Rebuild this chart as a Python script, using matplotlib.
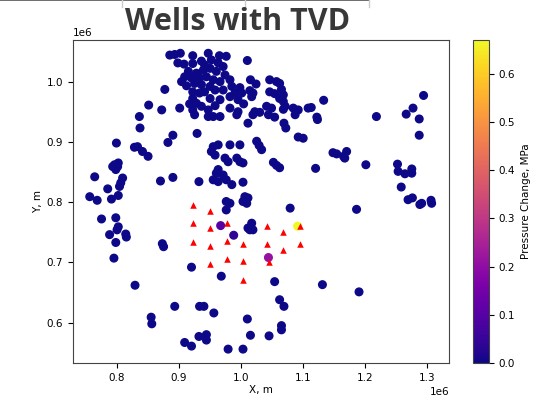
import matplotlib
matplotlib.use("Agg")
import matplotlib.pyplot as plt
from matplotlib.lines import Line2D
import numpy as np

# Production well locations (x, y in units of 1e6 m) and pressure change (MPa)
well_x = [
    0.885, 0.893, 0.902, 0.922, 0.947, 0.965, 0.976, 1.010, 0.898, 0.908,
    0.922, 0.936, 0.952, 0.963, 0.915, 0.928, 0.939, 0.950, 0.960, 0.971,
    0.909, 0.920, 0.933, 0.944, 0.955, 0.904, 0.925, 0.936, 0.950, 0.966,
    0.982, 0.985, 0.998, 0.877, 0.922, 0.933, 0.958, 0.971, 1.001, 0.995,
    0.922, 0.928, 0.950, 0.966, 0.982, 0.872, 0.901, 0.922, 0.936, 0.947,
    0.982, 0.995, 0.925, 0.947, 0.966, 0.993, 0.955, 1.011, 1.019, 1.015,
    1.024, 1.014, 1.019, 1.017, 1.046, 1.057, 1.062, 1.046, 1.054, 1.065,
    1.068, 1.062, 1.068, 1.071, 1.041, 1.049, 1.068, 1.084, 1.092, 1.087,
    1.108, 1.113, 1.133, 1.122, 1.123, 1.022, 1.030, 1.044, 1.054, 1.069,
    1.072, 1.025, 1.029, 1.033, 1.092, 1.100, 1.052, 1.057, 1.062, 1.120,
    1.148, 1.154, 1.165, 1.170, 1.167, 1.218, 1.266, 1.277, 1.287, 1.294,
    1.287, 1.201, 1.252, 1.253, 1.264, 1.275, 1.275, 1.258, 1.269, 1.276,
    1.288, 1.291, 1.306, 1.307, 1.186, 1.190, 1.131, 1.079, 0.851, 0.836,
    0.837, 0.799, 0.828, 0.833, 0.841, 0.850, 0.882, 0.890, 0.929, 0.796,
    0.801, 0.798, 0.793, 0.802, 0.764, 0.809, 0.806, 0.804, 0.785, 0.756,
    0.768, 0.791, 0.802, 0.870, 0.890, 0.775, 0.798, 0.802, 0.800, 0.788,
    0.798, 0.814, 0.815, 0.795, 0.829, 0.955, 0.963, 0.952, 0.958, 0.982,
    0.998, 0.974, 0.979, 0.993, 0.998, 1.003, 0.963, 0.960, 0.971, 0.955,
    0.963, 0.976, 0.985, 1.003, 0.932, 0.976, 0.982, 0.976, 1.006, 1.011,
    1.003, 1.009, 1.017, 1.014, 1.019, 1.011, 0.873, 0.875, 0.920, 0.968,
    1.054, 0.893, 0.855, 0.856, 0.933, 0.940, 0.956, 1.010, 1.062, 1.069,
    1.065, 1.065, 0.932, 0.944, 0.944, 0.909, 0.920, 0.979, 1.003, 1.015,
    1.045, 0.912, 0.941, 0.917, 0.958, 0.974, 0.941, 0.990, 1.004,
    0.967, 0.988, 1.044, 1.091,
]
well_y = [
    1.044, 1.045, 1.047, 1.043, 1.047, 1.043, 1.042, 1.035, 1.031, 1.029,
    1.030, 1.034, 1.036, 1.031, 1.017, 1.014, 1.019, 1.022, 1.017, 1.025,
    1.008, 1.006, 1.006, 1.008, 1.003, 1.000, 0.997, 0.995, 0.992, 1.000,
    1.003, 0.992, 0.990, 0.987, 0.983, 0.981, 0.986, 0.986, 0.981, 0.970,
    0.972, 0.964, 0.972, 0.970, 0.975, 0.953, 0.956, 0.953, 0.959, 0.953,
    0.956, 0.950, 0.945, 0.942, 0.942, 0.945, 0.942, 0.931, 0.945, 1.003,
    0.996, 0.985, 0.981, 0.975, 1.003, 1.000, 0.997, 0.983, 0.980, 0.987,
    0.978, 0.972, 0.967, 0.959, 0.959, 0.956, 0.954, 0.956, 0.953, 0.945,
    0.956, 0.957, 0.969, 0.941, 0.937, 0.950, 0.949, 0.945, 0.941, 0.931,
    0.923, 0.901, 0.894, 0.887, 0.908, 0.906, 0.866, 0.861, 0.857, 0.856,
    0.882, 0.880, 0.876, 0.884, 0.873, 0.942, 0.946, 0.956, 0.938, 0.977,
    0.911, 0.862, 0.863, 0.851, 0.847, 0.855, 0.848, 0.825, 0.804, 0.807,
    0.796, 0.798, 0.803, 0.798, 0.788, 0.651, 0.663, 0.790, 0.961, 0.942,
    0.923, 0.898, 0.891, 0.892, 0.884, 0.876, 0.899, 0.911, 0.914, 0.862,
    0.859, 0.854, 0.859, 0.865, 0.842, 0.840, 0.832, 0.826, 0.822, 0.809,
    0.803, 0.805, 0.811, 0.835, 0.841, 0.772, 0.774, 0.759, 0.754, 0.746,
    0.733, 0.747, 0.742, 0.707, 0.662, 0.892, 0.895, 0.884, 0.878, 0.895,
    0.895, 0.873, 0.867, 0.873, 0.867, 0.865, 0.854, 0.848, 0.845, 0.837,
    0.834, 0.837, 0.829, 0.833, 0.834, 0.801, 0.798, 0.787, 0.809, 0.807,
    0.801, 0.798, 0.765, 0.754, 0.754, 0.757, 0.731, 0.726, 0.692, 0.677,
    0.668, 0.627, 0.609, 0.598, 0.627, 0.627, 0.616, 0.606, 0.638, 0.627,
    0.595, 0.588, 0.577, 0.580, 0.571, 0.567, 0.561, 0.556, 0.556, 0.579,
    0.578, 0.993, 0.983, 0.963, 0.960, 1.011, 1.028, 0.981, 0.963,
    0.761, 0.745, 0.708, 0.760,
]
dp = [0.0] * (len(well_x) - 4) + [0.10, 0.04, 0.21, 0.67]

# Injection well locations (x, y in units of 1e6 m)
inj_x = [0.922, 0.922, 0.922,
         0.950, 0.950, 0.950, 0.950,
         0.977, 0.977, 0.977,
         1.003, 1.003, 1.003,
         1.041, 1.041, 1.045,
         1.068, 1.068,
         1.095, 1.095]
inj_y = [0.796, 0.765, 0.734,
         0.786, 0.757, 0.727, 0.698,
         0.765, 0.736, 0.706,
         0.731, 0.702, 0.671,
         0.761, 0.731, 0.700,
         0.750, 0.721,
         0.761, 0.731]

cbar_ticks = [0.0, 0.1, 0.2, 0.3, 0.4, 0.5, 0.6]

scale = 1e6
fs = 7.5

fig = plt.figure(figsize=(5.43, 4.03), dpi=100)
ax = fig.add_axes([0.1344, 0.0993, 0.6925, 0.8014])
cax = fig.add_axes([0.871, 0.0993, 0.0295, 0.8014])

sc = ax.scatter(np.array(well_x) * scale, np.array(well_y) * scale, c=dp,
                cmap="plasma", vmin=0.0, vmax=max(dp), s=30, zorder=2)
ax.scatter(np.array(inj_x) * scale, np.array(inj_y) * scale, marker="^",
           color="red", s=22, linewidths=0, zorder=3)

ax.set_xlim(0.729e6, 1.335e6)
ax.set_ylim(0.533e6, 1.069e6)
ax.set_xticks([0.8e6, 0.9e6, 1.0e6, 1.1e6, 1.2e6, 1.3e6])
ax.set_yticks([0.6e6, 0.7e6, 0.8e6, 0.9e6, 1.0e6])
ax.tick_params(labelsize=fs, length=3.5, width=0.8)
ax.xaxis.get_offset_text().set_fontsize(fs)
ax.yaxis.get_offset_text().set_fontsize(fs)
ax.set_xlabel("X, m", fontsize=fs, labelpad=2)
ax.set_ylabel("Y, m", fontsize=fs, labelpad=3)
for sp in ax.spines.values():
    sp.set_linewidth(0.8)
    sp.set_color("#444444")

cb = fig.colorbar(sc, cax=cax, ticks=cbar_ticks)
cb.ax.tick_params(labelsize=fs, length=3.5, width=0.8)
cb.outline.set_linewidth(0.8)
cb.outline.set_edgecolor("#444444")
cb.set_label("Pressure Change, MPa", fontsize=fs, labelpad=4)

fig.text(0.438, 0.946, "Wells with TVD", ha="center", va="center",
         fontsize=22, fontweight="bold", family="Open Sans", color="#383838")

# thin rule along the top edge with small tick marks
fig.add_artist(Line2D([0, 0.68], [0.999, 0.999], transform=fig.transFigure,
                      color="#555555", linewidth=1.2))
for xt in [0.2245, 0.451, 0.68]:
    fig.add_artist(Line2D([xt, xt], [1.0, 0.983], transform=fig.transFigure,
                          color="#cccccc", linewidth=1.0))

fig.savefig("out.png", dpi=100)
